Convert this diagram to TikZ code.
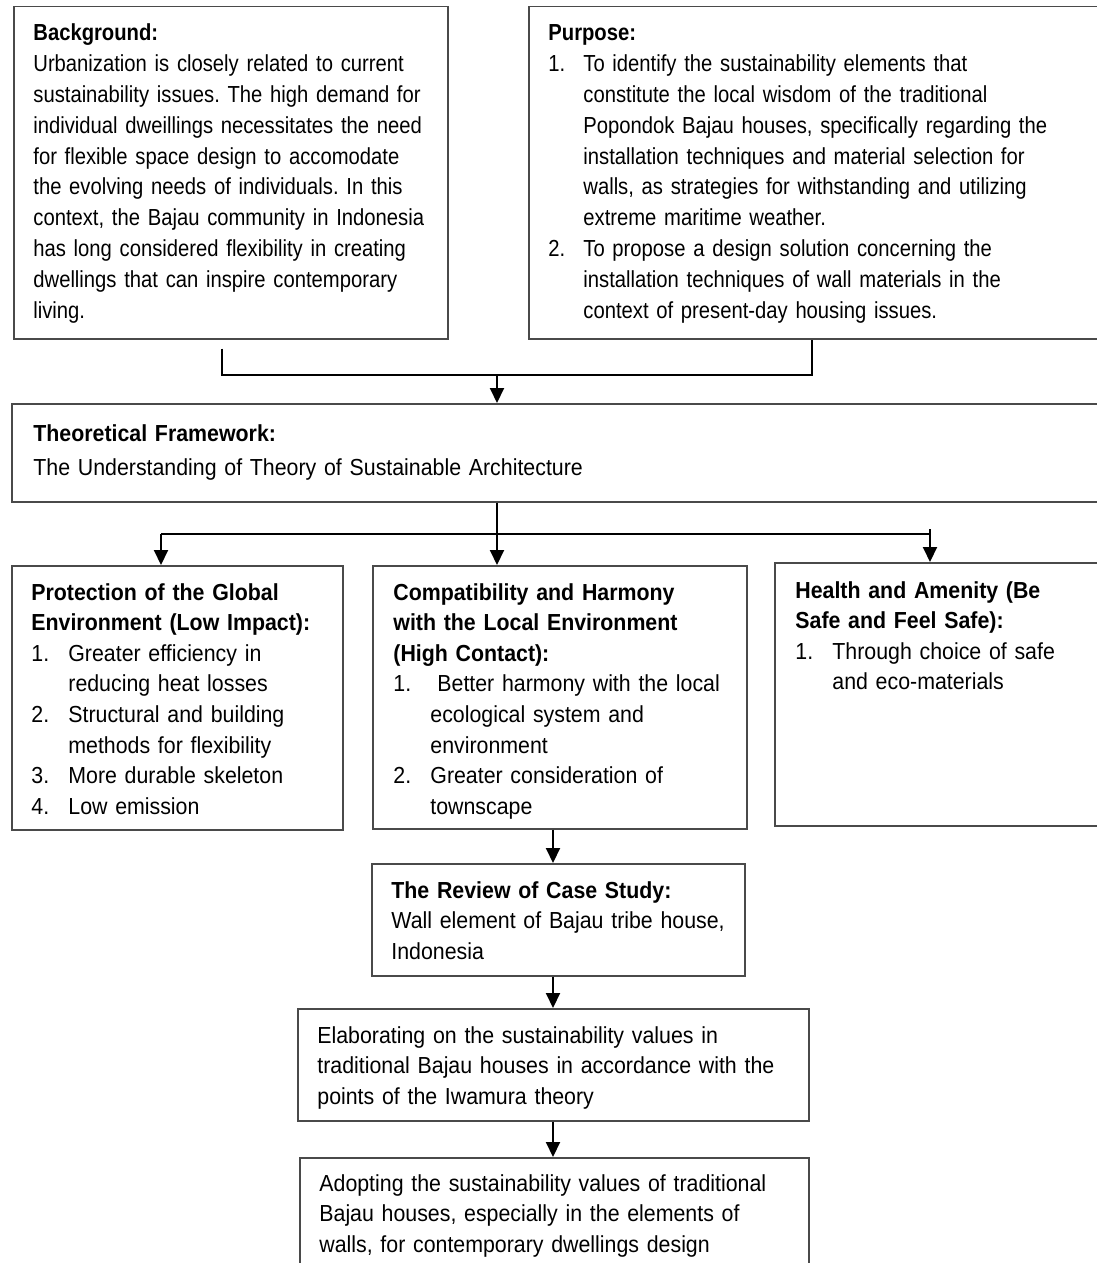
\documentclass[tikz,border=0pt]{standalone}
\usepackage{fontspec}
\setmainfont{Liberation Sans}[FakeStretch=0.92]
\newfontfamily\topfont{Liberation Sans}[FakeStretch=0.872]
\usetikzlibrary{arrows.meta,calc}
\definecolor{boxgray}{HTML}{4A4A4A}
\newlength\ind
\newcommand\lab[1]{\makebox[\ind][l]{#1}}
\newcommand\cont{\hspace*{\ind}}
\newcommand\fs{\fontsize{11.6pt}{15.3pt}\selectfont\frenchspacing}
\newcommand\fstop{\topfont\fontsize{11.6pt}{15.4pt}\selectfont\frenchspacing}
\tikzset{
  boxs/.style={draw=boxgray, line width=0.75pt, inner sep=0pt, anchor=north west},
  txt/.style={anchor=base west, inner sep=0pt, text width=320pt, align=left, font=\fs},
  toptxt/.style={txt, font=\fstop},
  conn/.style={draw=black, line width=1pt},
  arr/.style={conn, -{Triangle[length=7.5pt,width=7pt]}},
}
\begin{document}
\begin{tikzpicture}[x=0.5pt,y=-0.5pt]
\useasboundingbox (0,0) rectangle (1097,1263);
\clip (0,0) rectangle (1097,1263);
\fill[white] (0,0) rectangle (1097,1263);

% boxes
\node[boxs, minimum width=217pt, minimum height=166pt] (bg) at (13,6) {};
\node[boxs, minimum width=336pt, minimum height=166pt] (pur) at (528,6) {};
\node[boxs, minimum width=594.5pt, minimum height=49pt] (theo) at (11,403) {};
\node[boxs, minimum width=165.5pt, minimum height=132pt] (prot) at (11,565) {};
\node[boxs, minimum width=187pt, minimum height=131.5pt] (comp) at (372,565) {};
\node[boxs, minimum width=213pt, minimum height=131.5pt] (health) at (774,562) {};
\node[boxs, minimum width=186.5pt, minimum height=56pt] (rev) at (371,863) {};
\node[boxs, minimum width=255.5pt, minimum height=56pt] (elab) at (297,1008) {};
\node[boxs, minimum width=254.5pt, minimum height=65pt] (adopt) at (299,1157) {};

% texts
\node[toptxt] (bgt) at (33,41) {\textbf{Background:}\\
Urbanization is closely related to current\\
sustainability issues. The high demand for\\
individual dweillings necessitates the need\\
for flexible space design to accomodate\\
the evolving needs of individuals. In this\\
context, the Bajau community in Indonesia\\
has long considered flexibility in creating\\
dwellings that can inspire contemporary\\
living.};

\node[toptxt] (purt) at (548,41) {\setlength\ind{17.5pt}\textbf{Purpose:}\\
\lab{1.}To identify the sustainability elements that\\
\cont constitute the local wisdom of the traditional\\
\cont Popondok Bajau houses, specifically regarding the\\
\cont installation techniques and material selection for\\
\cont walls, as strategies for withstanding and utilizing\\
\cont extreme maritime weather.\\
\lab{2.}To propose a design solution concerning the\\
\cont installation techniques of wall materials in the\\
\cont context of present-day housing issues.};

\node[txt] (theot) at (33,441) {\textbf{Theoretical Framework:}\\[2.1pt]
The Understanding of Theory of Sustainable Architecture};

\node[txt] (prott) at (31,600) {\setlength\ind{18.5pt}\textbf{Protection of the Global}\\
\textbf{Environment (Low Impact):}\\
\lab{1.}Greater efficiency in\\
\cont reducing heat losses\\
\lab{2.}Structural and building\\
\cont methods for flexibility\\
\lab{3.}More durable skeleton\\
\lab{4.}Low emission};

\node[txt] (compt) at (393,600) {\setlength\ind{18.5pt}\textbf{Compatibility and Harmony}\\
\textbf{with the Local Environment}\\
\textbf{(High Contact):}\\
\lab{1.}\hspace{3.5pt}Better harmony with the local\\
\cont ecological system and\\
\cont environment\\
\lab{2.}Greater consideration of\\
\cont townscape};

\node[txt] (healtht) at (795,598) {\setlength\ind{18.5pt}\textbf{Health and Amenity (Be}\\
\textbf{Safe and Feel Safe):}\\
\lab{1.}Through choice of safe\\
\cont and eco-materials};

\node[txt] (revt) at (391,898) {\textbf{The Review of Case Study:}\\
Wall element of Bajau tribe house,\\
Indonesia};

\node[txt] (elabt) at (317,1043) {Elaborating on the sustainability values in\\
traditional Bajau houses in accordance with the\\
points of the Iwamura theory};

\node[txt] (adoptt) at (319,1191) {Adopting the sustainability values of traditional\\
Bajau houses, especially in the elements of\\
walls, for contemporary dwellings design};

% connectors
\coordinate (cL) at (222,375);
\coordinate (cR) at (812,375);
\coordinate (cM) at (497,375);
\draw[conn] ($(bg.south -| cL)+(0,9)$) -- (cL) -- (cR) -- (pur.south -| cR);
\draw[arr] (cM) -- (cM |- theo.north);

\coordinate (dL) at (161,534);
\coordinate (dR) at (930,534);
\coordinate (dM) at (497,534);
\draw[conn] (dL) -- (dR);
\draw[arr] (theo.south -| dM) -- (dM |- comp.north);
\draw[arr] (dL) -- (dL |- prot.north);
\draw[arr] ($(dR)+(0,-5)$) -- (dR |- health.north);

\coordinate (vx) at (553,0);
\draw[arr] (comp.south -| vx) -- (vx |- rev.north);
\draw[arr] (rev.south -| vx) -- (vx |- elab.north);
\draw[arr] (elab.south -| vx) -- (vx |- adopt.north);
\end{tikzpicture}
\end{document}
